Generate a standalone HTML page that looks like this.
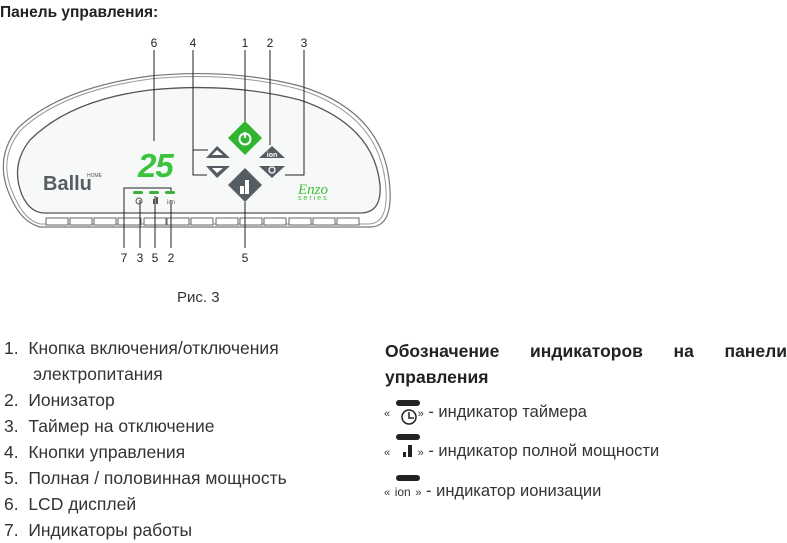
<!DOCTYPE html>
<html><head><meta charset="utf-8"><style>
body{margin:0;width:787px;height:539px;background:#fff;overflow:hidden;font-family:"Liberation Sans",sans-serif;color:#2a2a2a}
svg{position:absolute;left:0;top:0}
.t{position:absolute;white-space:nowrap;font-size:17.5px;color:#333}
</style></head><body>
<svg width="787" height="539" viewBox="0 0 787 539">
<text x="0" y="17" font-family="Liberation Sans" font-weight="bold" font-size="15.5" fill="#222">Панель управления:</text>
<path d="M40,227 L370,227 Q392,227 390,190 Q386,112 300,86 Q230,68 150,76 Q60,88 18,128 Q-8,160 12,200 Q22,222 40,227 Z" fill="#fff" stroke="#777" stroke-width="1.2"/>
<path d="M40,224 L368,224 Q388,224 386,190 Q382,115 298,89 Q230,71 150,79 Q62,91 21,130 Q-4,160 15,198 Q25,220 40,224 Z" fill="none" stroke="#999" stroke-width="1"/>
<path d="M45,213 L360,213 Q382,213 380,185 Q374,125 300,100 Q230,82 150,90 Q70,100 30,140 Q10,165 22,195 Q30,213 45,213 Z" fill="#f7f9f9" stroke="#555" stroke-width="1.3"/>
<g fill="#fff" stroke="#555" stroke-width="0.9">
<rect x="46" y="218" width="22" height="7"/><rect x="70" y="218" width="22" height="7"/><rect x="94" y="218" width="22" height="7"/><rect x="118" y="218" width="23" height="7"/><rect x="144" y="218" width="22" height="7"/><rect x="167" y="218" width="22" height="7"/><rect x="191" y="218" width="22" height="7"/><rect x="216" y="218" width="22" height="7"/><rect x="240" y="218" width="22" height="7"/><rect x="264" y="218" width="22" height="7"/><rect x="289" y="218" width="22" height="7"/><rect x="313" y="218" width="22" height="7"/><rect x="337" y="218" width="22" height="7"/>
</g>
<g stroke="#222" stroke-width="1" fill="none">
<line x1="154" y1="50" x2="154" y2="141"/>
<line x1="245" y1="50" x2="245" y2="122"/>
<line x1="270" y1="50" x2="270" y2="145"/>
<polyline points="304,50 304,175 285,175"/>
<polyline points="193,50 193,175 207,175"/>
<line x1="193" y1="150" x2="208" y2="150"/>
<polyline points="124,248 124,188 171,188 171,194"/>
<line x1="140" y1="200" x2="140" y2="248"/>
<line x1="155" y1="196" x2="155" y2="248"/>
<line x1="171" y1="200" x2="171" y2="248"/>
<line x1="245" y1="202" x2="245" y2="248"/>
</g>
<g font-family="Liberation Sans" font-size="12" fill="#222" text-anchor="middle">
<text x="154" y="47">6</text><text x="193" y="47">4</text><text x="245" y="47">1</text><text x="270" y="47">2</text><text x="304" y="47">3</text>
<text x="124" y="262">7</text><text x="140" y="262">3</text><text x="155" y="262">5</text><text x="171" y="262">2</text><text x="245" y="262">5</text>
</g>
<path d="M245,121 L262,138 L245,155 L228,138 Z" fill="#2fb52f"/>
<circle cx="245" cy="139" r="5.5" fill="none" stroke="#fff" stroke-width="2"/>
<line x1="245" y1="132" x2="245" y2="138" stroke="#fff" stroke-width="2"/>
<path d="M245,168 L262,185 L245,202 L228,185 Z" fill="#555d63"/>
<rect x="240" y="186" width="4" height="8" fill="#fff"/><rect x="245" y="180" width="4" height="14" fill="#fff"/>
<path d="M206,158 L217,146 L230,158 Z" fill="#555d63"/>
<path d="M212,155 L217,150 L223,155 Z" fill="#fff"/>
<path d="M206,166 L230,166 L217,178 Z" fill="#555d63"/>
<path d="M212,168 L223,168 L217,173 Z" fill="#fff"/>
<path d="M259,158 L272,146 L285,158 Z" fill="#555d63"/>
<text x="272" y="157" font-family="Liberation Sans" font-size="7" font-weight="bold" fill="#fff" text-anchor="middle">ion</text>
<path d="M259,166 L285,166 L272,178 Z" fill="#555d63"/>
<circle cx="272" cy="170" r="3" fill="none" stroke="#fff" stroke-width="1.3"/>
<text x="138" y="177" font-family="Liberation Sans" font-size="33" font-weight="bold" fill="#3bc43b" font-style="italic" letter-spacing="-1">25</text>
<g fill="#3bb03b"><rect x="133" y="191" width="10" height="3" rx="1.5"/><rect x="149" y="191" width="10" height="3" rx="1.5"/><rect x="165" y="191" width="10" height="3" rx="1.5"/></g>
<circle cx="139" cy="201" r="3" fill="none" stroke="#555" stroke-width="1"/>
<rect x="153" y="199" width="2" height="5" fill="#555"/><rect x="156" y="197" width="2" height="7" fill="#555"/>
<text x="171" y="204" font-family="Liberation Sans" font-size="6" fill="#555" text-anchor="middle">ion</text>
<text x="43" y="190" font-family="Liberation Sans" font-weight="bold" font-size="20" fill="#555d63">Ballu</text>
<text x="87" y="177" font-family="Liberation Sans" font-size="5" fill="#555">HOME</text>
<text x="298" y="194" font-family="Liberation Serif" font-style="italic" font-size="15" fill="#3bbf3b">Enzo</text>
<text x="298" y="200" font-family="Liberation Sans" font-size="7" fill="#3bbf3b" letter-spacing="2">series</text>
<text x="177" y="302" font-family="Liberation Sans" font-size="15" fill="#333">Рис. 3</text>
<g fill="#222">
<rect x="396" y="400" width="24" height="6" rx="3"/><rect x="396" y="434" width="24" height="6" rx="3"/><rect x="396" y="475" width="24" height="6" rx="3"/>
</g>
<circle cx="409" cy="417" r="7" fill="none" stroke="#222" stroke-width="1.5"/><polyline points="409,412 409,418 414,418" fill="none" stroke="#222" stroke-width="1.5"/>
<rect x="403" y="452" width="3" height="5" fill="#222"/><rect x="408" y="445" width="4" height="12" fill="#222"/>
</svg>
<div class="t" style="left:4px;top:335px;line-height:26px">1.&nbsp;&nbsp;Кнопка включения/отключения<br>&nbsp;&nbsp;&nbsp;&nbsp;&nbsp;&nbsp;электропитания<br>2.&nbsp;&nbsp;Ионизатор<br>3.&nbsp;&nbsp;Таймер на отключение<br>4.&nbsp;&nbsp;Кнопки управления<br>5.&nbsp;&nbsp;Полная / половинная мощность<br>6.&nbsp;&nbsp;LCD дисплей<br>7.&nbsp;&nbsp;Индикаторы работы</div>
<div class="t" style="left:385px;top:338px;font-weight:bold;color:#222;width:402px;line-height:26px;display:flex;justify-content:space-between"><span>Обозначение</span><span>индикаторов</span><span>на</span><span>панели</span></div>
<div class="t" style="left:385px;top:364px;font-weight:bold;color:#222;line-height:26px">управления</div>
<div class="t" style="left:384px;top:403px;font-size:16.5px"><span style="font-size:11px">«</span>&nbsp;&nbsp;&nbsp;&nbsp;&nbsp;&nbsp;<span style="font-size:11px">»</span> - индикатор таймера</div>
<div class="t" style="left:384px;top:442px;font-size:16.5px"><span style="font-size:11px">«</span>&nbsp;&nbsp;&nbsp;&nbsp;&nbsp;&nbsp;<span style="font-size:11px">»</span> - индикатор полной мощности</div>
<div class="t" style="left:384px;top:482px;font-size:16.5px"><span style="font-size:11px">«</span> <span style="font-size:12px">ion</span> <span style="font-size:11px">»</span> - индикатор ионизации</div>
</body></html>
